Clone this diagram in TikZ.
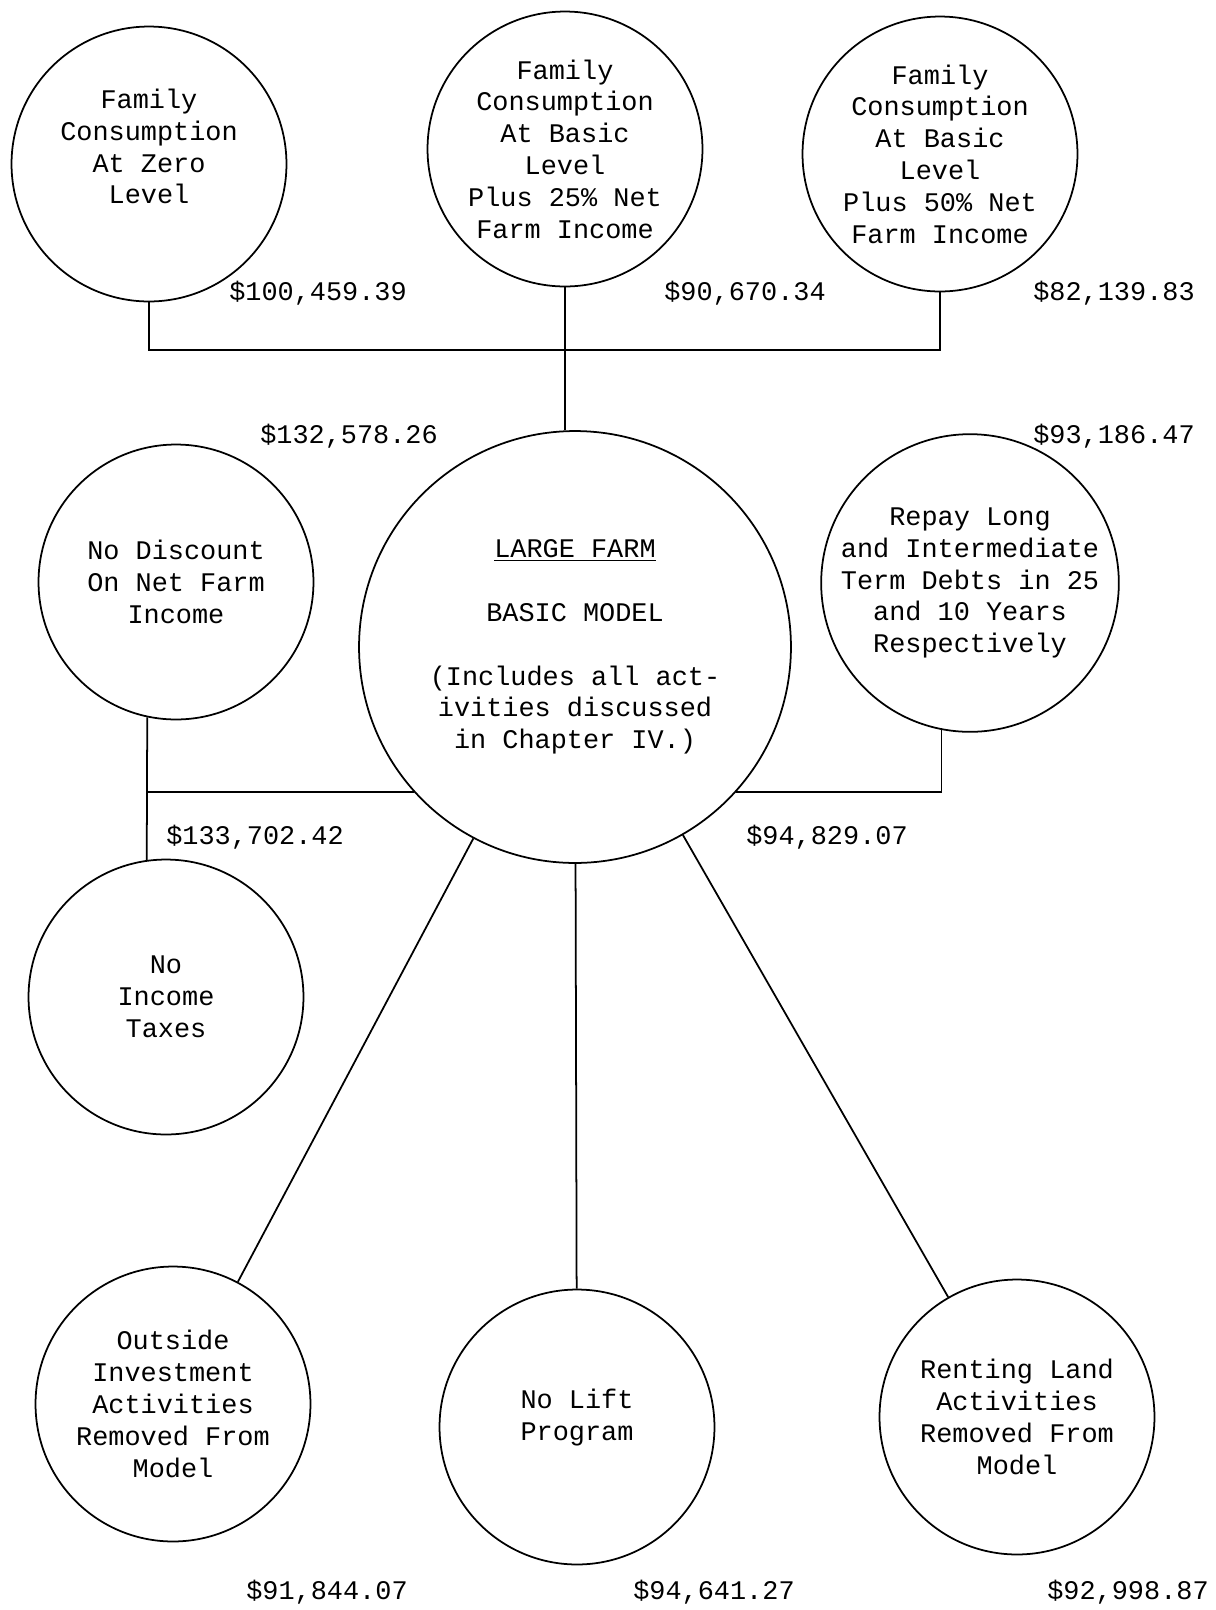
\documentclass[tikz,border=0pt]{standalone}
\usepackage{fontspec}
\newfontfamily\typer{Liberation Mono}
\tikzset{
  blob/.style={draw, circle, line width=1pt, minimum size=5.5cm, inner sep=0pt,
    align=center, font=\typer\fontsize{15.3pt}{18.1pt}\selectfont},
  amount/.style={font=\typer\fontsize{15.3pt}{18.1pt}\selectfont, inner sep=0pt},
}
\begin{document}
\begin{tikzpicture}[x=0.02cm, y=-0.02cm, line width=1pt]
  \useasboundingbox (0,0) rectangle (1216,1610);
  % consumption levels
  \node[blob, text depth=20pt] (fz) at (149,164)
    {Family\\Consumption\\At Zero\\Level};
  \node[blob] (f25) at (565,149)
    {Family\\Consumption\\At Basic\\Level\\Plus 25\% Net\\Farm Income};
  \node[blob] (f50) at (940,154)
    {Family\\Consumption\\At Basic\\Level\\Plus 50\% Net\\Farm Income};
  % basic model
  \node[blob, minimum size=8.64cm] (model) at (575,647)
    {\underline{LARGE FARM}\\[18.1pt]BASIC MODEL\\[18.1pt](Includes all act-\\ivities discussed\\in Chapter IV.)};
  \node[blob] (nodisc) at (176,582) {No Discount\\On Net Farm\\Income};
  \node[blob] (repay) at (970,583)
    {Repay Long\\and Intermediate\\Term Debts in 25\\and 10 Years\\Respectively};
  \node[blob] (notax) at (166,997) {No\\Income\\Taxes};
  % bottom row
  \node[blob] (outside) at (173,1404)
    {Outside\\Investment\\Activities\\Removed From\\Model};
  \node[blob, text depth=14pt] (nolift) at (577,1427) {No Lift\\Program};
  \node[blob] (renting) at (1017,1417)
    {Renting Land\\Activities\\Removed From\\Model};
  % amounts
  \node[amount] (afz) at (318,293) {\$100,459.39};
  \node[amount] (af25) at (745,293) {\$90,670.34};
  \node[amount] (af50) at (1114,293) {\$82,139.83};
  \node[amount] (anodisc) at (349,436) {\$132,578.26};
  \node[amount] (arepay) at (1114,436) {\$93,186.47};
  \node[amount] (anotax) at (255,837) {\$133,702.42};
  \node[amount] (amodel) at (827,837) {\$94,829.07};
  \node[amount] (aoutside) at (327,1592) {\$91,844.07};
  \node[amount] (anolift) at (714,1592) {\$94,641.27};
  \node[amount] (arenting) at (1128,1592) {\$92,998.87};
  % connectors
  \coordinate (topbus) at (565,350);
  \draw (fz.south) |- (topbus) -| (f50.south);
  \draw (f25.south) -- (f25.south |- model.north);
  \draw (nodisc.258) -- (notax.98);
  \draw (nodisc.258 |- model.222) -- (model.222);
  \draw (model.318) -| (repay.259);
  \draw (model) -- (outside);
  \draw (model) -- (nolift);
  \draw (model) -- (renting);
\end{tikzpicture}
\end{document}
